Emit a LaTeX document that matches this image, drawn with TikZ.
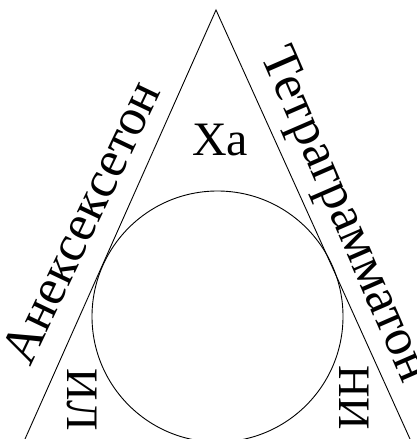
\documentclass[tikz,border=0pt]{standalone}
\usepackage{fontspec}
\setmainfont{Liberation Serif}
\usetikzlibrary{calc}
\begin{document}
\begin{tikzpicture}[x=1pt,y=-1pt,
  edge/.style={line width=0.9pt},
  big/.style={font=\fontsize{48}{48}\selectfont, inner sep=0pt},
  side/.style={font=\fontsize{52}{52}\selectfont, inner sep=0pt},
  mid/.style={font=\fontsize{45}{45}\selectfont, inner sep=0pt}]
\useasboundingbox (0,0) rectangle (416,439);
\clip (0,0) rectangle (416,439);
\coordinate (apex) at (216,10);
\coordinate (bl) at ($(216,10)!1.05!(25,439)$);
\coordinate (br) at ($(216,10)!1.05!(410,439)$);
\draw[edge] (bl) -- (apex) -- (br);
\node[draw, edge, circle, minimum size=251pt, inner sep=0pt] (c) at (217.5,316.5) {};
\node[big, anchor=base] (ha) at (220,155) {Ха};
\node[side, anchor=base, rotate=64.5] (left) at (96,229) {Анексексетон};
\node[side, anchor=base, rotate=-66.5] (right) at (332,220) {Тетраграмматон};
\node[mid, rotate=-90] (il) at (82,400) {ИЛ};
\node[mid, rotate=-90] (ni) at (354,397.5) {НИ};
\end{tikzpicture}
\end{document}
